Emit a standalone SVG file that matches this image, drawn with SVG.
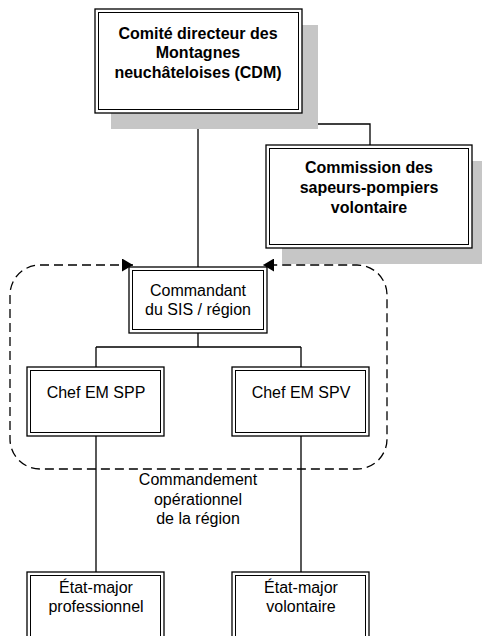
<svg xmlns="http://www.w3.org/2000/svg" width="482" height="636" viewBox="0 0 482 636">
  <style>
    .shadow { fill: #c6c6c6; stroke: none; }
    .outer { fill: #ffffff; stroke: #000; stroke-width: 1.3; }
    .inner { fill: none; stroke: #000; stroke-width: 1; }
    .t { font-family: "Liberation Sans", Arial, sans-serif; font-size: 16px; fill: #000; text-anchor: middle; }
    .b { font-weight: bold; }
    .line { fill: none; stroke: #000; stroke-width: 1.3; }
    .dash { fill: none; stroke: #000; stroke-width: 1.3; stroke-dasharray: 9 5; }
  </style>
  <defs>
    <marker id="arr" viewBox="0 0 11 13" refX="11" refY="6.5" markerWidth="11" markerHeight="13" markerUnits="userSpaceOnUse" orient="auto-start-reverse">
      <path d="M0,0 L11,6.5 L0,13 z" fill="#000"/>
    </marker>
  </defs>
  <rect width="482" height="636" fill="#fff"/>

  <g id="connectors">
    <path class="line" d="M198,113 V267"/>
    <path class="line" d="M198,124 H370 V145"/>
    <path class="line" d="M198,333 V347 M96,347 H301 M96,347 V367 M301,347 V367"/>
    <path class="line" d="M96,436 V572 M301,436 V572"/>
    <path class="dash" d="M133,265 H40 A30,30 0 0 0 10,295 V439 A30,30 0 0 0 40,469 H357 A30,30 0 0 0 387,439 V295 A30,30 0 0 0 357,265 H263" marker-start="url(#arr)" marker-end="url(#arr)"/>
  </g>

  <g id="cdm">
    <rect class="shadow" x="111" y="25" width="207" height="104"/>
    <rect class="outer" x="95" y="9" width="207" height="104"/>
    <rect class="inner" x="98.5" y="12.5" width="200" height="97"/>
    <text class="t b" x="198" y="38.5">Comité directeur des</text>
    <text class="t b" x="198" y="58">Montagnes</text>
    <text class="t b" x="198" y="77.5">neuchâteloises (CDM)</text>
  </g>

  <g id="commission">
    <rect class="shadow" x="282" y="161" width="206" height="103"/>
    <rect class="outer" x="266" y="145" width="206" height="103"/>
    <rect class="inner" x="269.5" y="148.5" width="199" height="96"/>
    <text class="t b" x="369" y="172.5">Commission des</text>
    <text class="t b" x="369" y="192.5">sapeurs-pompiers</text>
    <text class="t b" x="369" y="212.5">volontaire</text>
  </g>

  <g id="commandant">
    <rect class="outer" x="129" y="267" width="138" height="66"/>
    <rect class="inner" x="132.5" y="270.5" width="131" height="59"/>
    <text class="t" x="198" y="295.5">Commandant</text>
    <text class="t" x="198" y="314.5">du SIS / région</text>
  </g>

  <g id="chef-spp">
    <rect class="outer" x="27" y="367" width="137" height="69"/>
    <rect class="inner" x="30.5" y="370.5" width="130" height="62"/>
    <text class="t" x="96" y="397.5">Chef EM SPP</text>
  </g>

  <g id="chef-spv">
    <rect class="outer" x="232" y="367" width="137" height="69"/>
    <rect class="inner" x="235.5" y="370.5" width="130" height="62"/>
    <text class="t" x="301" y="397.5">Chef EM SPV</text>
  </g>

  <g id="label-commandement">
    <text class="t" x="198" y="484.5">Commandement</text>
    <text class="t" x="198" y="504.5">opérationnel</text>
    <text class="t" x="198" y="523.5">de la région</text>
  </g>

  <g id="em-pro">
    <rect class="outer" x="27" y="572" width="137" height="80"/>
    <rect class="inner" x="30.5" y="575.5" width="130" height="73"/>
    <text class="t" x="96" y="592.5">État-major</text>
    <text class="t" x="96" y="611.5">professionnel</text>
  </g>

  <g id="em-vol">
    <rect class="outer" x="232" y="572" width="137" height="80"/>
    <rect class="inner" x="235.5" y="575.5" width="130" height="73"/>
    <text class="t" x="301" y="592.5">État-major</text>
    <text class="t" x="301" y="611.5">volontaire</text>
  </g>
</svg>
